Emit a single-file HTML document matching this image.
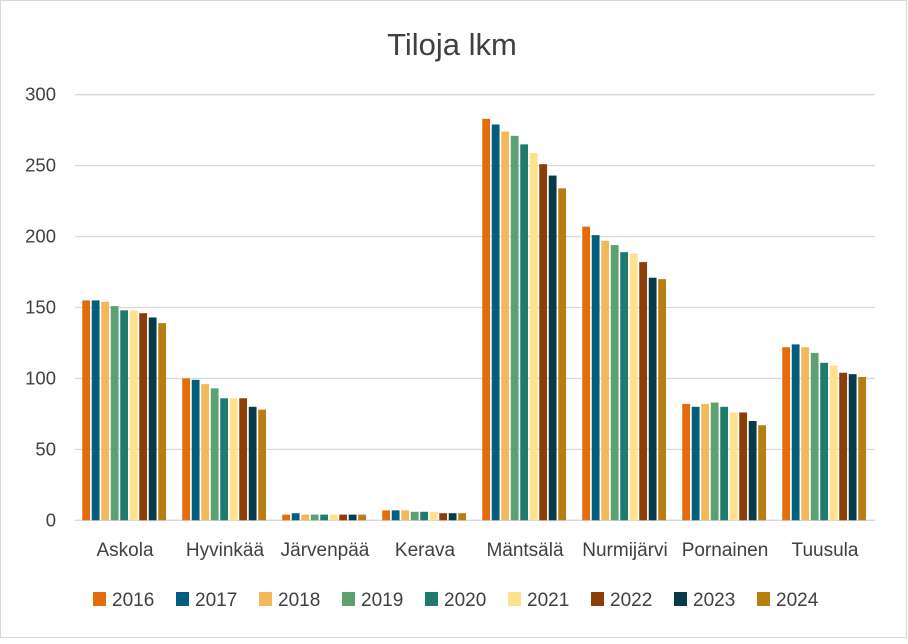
<!DOCTYPE html>
<html><head><meta charset="utf-8"><style>
body{margin:0;background:#fff;font-family:"Liberation Sans",sans-serif;}
svg text{font-family:"Liberation Sans",sans-serif;fill:#404040;}
</style></head><body>
<svg id="chart" width="908" height="639">
<rect x="0.5" y="0.5" width="906" height="637" fill="#fff" stroke="#d9d9d9"/>
<text x="452" y="55" font-size="31" text-anchor="middle">Tiloja lkm</text>
<g id="grid"></g><g id="bars"></g><g id="labels"></g><g id="legend"></g>
</svg>
<script>
const categories=["Askola","Hyvinkää","Järvenpää","Kerava","Mäntsälä","Nurmijärvi","Pornainen","Tuusula"];
const years=["2016","2017","2018","2019","2020","2021","2022","2023","2024"];
const colors=["#E46C0A","#005F7F","#F2B85A","#5BA172","#1E7B6E","#FFE08F","#8B3F06","#073B4C","#B87D13"];
const values=[
[155,155,154,151,148,148,146,143,139],
[100,99,96,93,86,86,86,80,78],
[4,5,4,4,4,4,4,4,4],
[7,7,7,6,6,6,5,5,5],
[283,279,274,271,265,259,251,243,234],
[207,201,197,194,189,188,182,171,170],
[82,80,82,83,80,76,76,70,67],
[122,124,122,118,111,109,104,103,101]];
const yTicks=[0,50,100,150,200,250,300];
const NS="http://www.w3.org/2000/svg";
const x0=75,x1=875,yBase=520.3,yTop=94.7,yMax=300;
const y=v=>yBase-(v/yMax)*(yBase-yTop);
const bandW=(x1-x0)/categories.length;
function mk(t,a,p){const e=document.createElementNS(NS,t);for(const k in a)e.setAttribute(k,a[k]);p.appendChild(e);return e;}
const g=document.getElementById('grid'),b=document.getElementById('bars'),l=document.getElementById('labels'),lg=document.getElementById('legend');
yTicks.forEach(t=>{
 const ln=mk('line',{x1:x0,x2:x1,y1:y(t),y2:y(t),stroke:'#d9d9d9','stroke-width':1.3},g);
 
 
 const tx=mk('text',{x:56,y:y(t)+6,'font-size':18.5,'text-anchor':'end'},l);
 tx.textContent=t;
 
 
});
const pitch=9.5,bw=7.8;
categories.forEach((c,i)=>{
 const cx=x0+bandW*(i+0.5);
 const start=cx-pitch*years.length/2;
 values[i].forEach((v,j)=>{
  const r=mk('rect',{x:start+j*pitch,y:y(v),width:bw,height:yBase-y(v),fill:colors[j]},b);
  
  
 });
 const tx=mk('text',{x:cx,y:556,'font-size':19,'text-anchor':'middle'},l);
 tx.textContent=c;
 
 
});
years.forEach((yr,j)=>{
 const lx=93+j*83;
 const s=mk('rect',{x:lx,y:592,width:13,height:14,fill:colors[j]},lg);
 
 
 const t=mk('text',{x:lx+19,y:606,'font-size':19},lg);
 t.textContent=yr;
 
 
});
</script>
</body></html>
